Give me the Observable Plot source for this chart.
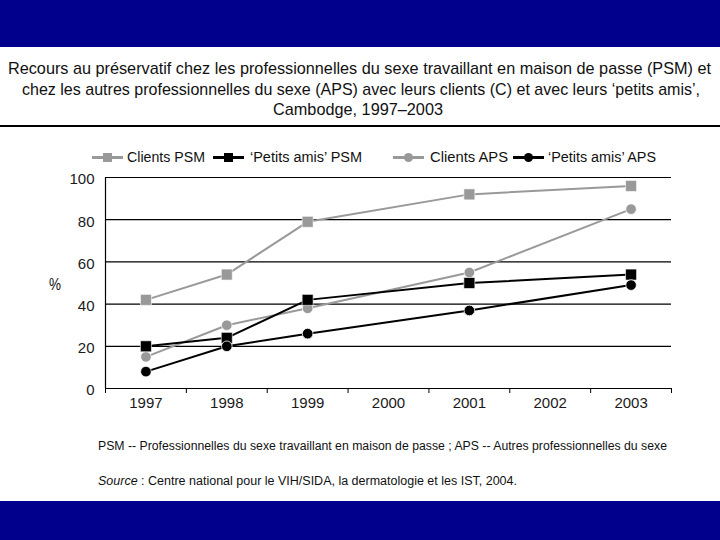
<!DOCTYPE html>
<html><head><meta charset="utf-8">
<script src="https://cdn.jsdelivr.net/npm/d3@7"></script>
<script src="https://cdn.jsdelivr.net/npm/@observablehq/plot@0.6"></script>
<style>
html,body{margin:0;padding:0;background:#fff;}
#page{position:relative;width:720px;height:540px;overflow:hidden;font-family:"Liberation Sans Narrow","Liberation Sans",Arial,sans-serif;color:#111;background:#fff;}
.band{position:absolute;left:0;width:720px;background:#00008c;}
.txt{position:absolute;white-space:nowrap;transform-origin:0 50%;line-height:1;}
#chart{position:absolute;left:0;top:160px;}
</style></head><body>
<div id="page">
  <div class="band" style="top:0;height:47px"></div>
  <div class="band" style="top:501px;height:39px"></div>
  <div style="position:absolute;left:0;top:125px;width:720px;height:2px;background:#000"></div>
  <div id="chart"></div>
</div>
<script>
// ---- data ----
const years = [1997, 1998, 1999, 2001, 2003];
const clientsPSM = [42, 54, 79, 92, 96];
const petitsAmisPSM = [20, 24, 42, 50, 54];
const clientsAPS = [15, 30, 38, 55, 85];
const petitsAmisAPS = [8, 20, 26, 37, 49];
const seriesNames = ["Clients PSM", "\u2018Petits amis\u2019 PSM", "Clients APS", "\u2018Petits amis\u2019 APS"];
const xTickLabels = [1997, 1998, 1999, 2000, 2001, 2002, 2003];
const yTicks = [0, 20, 40, 60, 80, 100];
const titleLines = [
  "Recours au pr\u00e9servatif chez les professionnelles du sexe travaillant en maison de passe (PSM) et",
  "chez les autres professionnelles du sexe (APS) avec leurs clients (C) et avec leurs \u2018petits amis\u2019,",
  "Cambodge, 1997\u20132003"
];
const yLabel = "%";
const footnote = "PSM -- Professionnelles du sexe travaillant en maison de passe ; APS -- Autres professionnelles du sexe";
const sourceLabel = "Source";
const sourceText = " : Centre national pour le VIH/SIDA, la dermatologie et les IST, 2004.";

const GRAY = "#999999", BLACK = "#000000";
const styles = [
  {values: clientsPSM, color: GRAY, symbol: "square"},
  {values: petitsAmisPSM, color: BLACK, symbol: "square"},
  {values: clientsAPS, color: GRAY, symbol: "circle"},
  {values: petitsAmisAPS, color: BLACK, symbol: "circle"}
];

const page = document.getElementById("page");
function placeText(html, x1, x2, yc, size, extra) {
  const s = document.createElement("div");
  s.className = "txt";
  s.innerHTML = html;
  s.style.fontSize = size + "px";
  s.style.left = x1 + "px";
  s.style.top = (yc - size / 2) + "px";
  if (extra) Object.assign(s.style, extra);
  page.appendChild(s);
  const w = s.getBoundingClientRect().width;
  if (x2 != null && w > 0) s.style.transform = `scaleX(${(x2 - x1) / w})`;
  return s;
}

// title
placeText(titleLines[0], 8, 711, 68, 17);
placeText(titleLines[1], 22, 700, 89, 17);
placeText(titleLines[2], 273, 443, 109, 17);

// legend
const legendPos = [
  {sx: 92, tx: 127, tx2: 205},
  {sx: 213, tx: 250, tx2: 362},
  {sx: 393, tx: 430, tx2: 508},
  {sx: 513, tx: 548, tx2: 656}
];
[0, 1, 2, 3].forEach(i => {
  const st = styles[i], p = legendPos[i];
  const sym = st.symbol === "square"
    ? `<rect x="11" y="3" width="9" height="9" fill="${st.color}"/>`
    : `<circle cx="15.5" cy="7.5" r="4.5" fill="${st.color}"/>`;
  const svg = document.createElementNS("http://www.w3.org/2000/svg", "svg");
  svg.setAttribute("width", 31); svg.setAttribute("height", 15);
  svg.style.position = "absolute"; svg.style.left = p.sx + "px"; svg.style.top = (157 - 7.5) + "px";
  svg.innerHTML = `<line x1="0" x2="31" y1="7.5" y2="7.5" stroke="${st.color}" stroke-width="3"/>${sym}`;
  page.appendChild(svg);
  placeText(seriesNames[i], p.tx, p.tx2, 157, 14);
});

// y label
placeText(yLabel, 49, 61, 285, 16);

// footnotes
placeText(footnote, 98, 667, 446, 12.5);
placeText(`<i>${sourceLabel}</i>${sourceText}`, 98, 517, 481, 12.5);

// ---- chart ----
const data = styles.flatMap((st, si) => years.map((yr, i) => ({series: seriesNames[si], year: yr, value: st.values[i]})));
const boundaries = d3.range(xTickLabels[0] - 0.5, xTickLabels[xTickLabels.length - 1] + 1, 1);
const drawOrder = [0, 2, 1, 3];
const seriesMarks = drawOrder.flatMap(si => {
  const st = styles[si];
  const d = data.filter(r => r.series === seriesNames[si]);
  return [
    Plot.line(d, {x: "year", y: "value", stroke: st.color, strokeWidth: 2}),
    st.symbol === "square"
      ? Plot.dot(d, {x: "year", y: "value", symbol: "square", r: 6.2, fill: st.color, stroke: "white", strokeWidth: 0.6})
      : Plot.dot(d, {x: "year", y: "value", symbol: "circle", r: 5.3, fill: st.color, stroke: "white", strokeWidth: 0.8})
  ];
});

const chart = Plot.plot({
  width: 720, height: 272,
  marginLeft: 105, marginRight: 49, marginTop: 17, marginBottom: 44,
  x: {domain: [boundaries[0], boundaries[boundaries.length - 1]]},
  y: {domain: [0, 100]},
  style: {fontFamily: "'Liberation Sans', Arial, sans-serif", fontSize: "15px", color: "#1a1a1a", background: "transparent", overflow: "visible"},
  marks: [
    Plot.ruleY(yTicks.filter(v => v > 0), {stroke: BLACK, strokeWidth: 1.2}),
    Plot.ruleY([0], {stroke: BLACK, strokeWidth: 1.2}),
    Plot.ruleX([boundaries[0]], {y1: 0, y2: 100, stroke: BLACK, strokeWidth: 1.2}),
    Plot.axisX(boundaries, {tickSize: 5, tickFormat: () => "", label: null, stroke: BLACK}),
    Plot.axisX(xTickLabels, {tickSize: 0, tickPadding: 9, tickFormat: d => String(d), label: null}),
    Plot.axisY(yTicks, {tickSize: 0, tickPadding: 11, dy: 2, label: null}),
    ...seriesMarks
  ]
});
document.getElementById("chart").appendChild(chart);
</script>
</body></html>
